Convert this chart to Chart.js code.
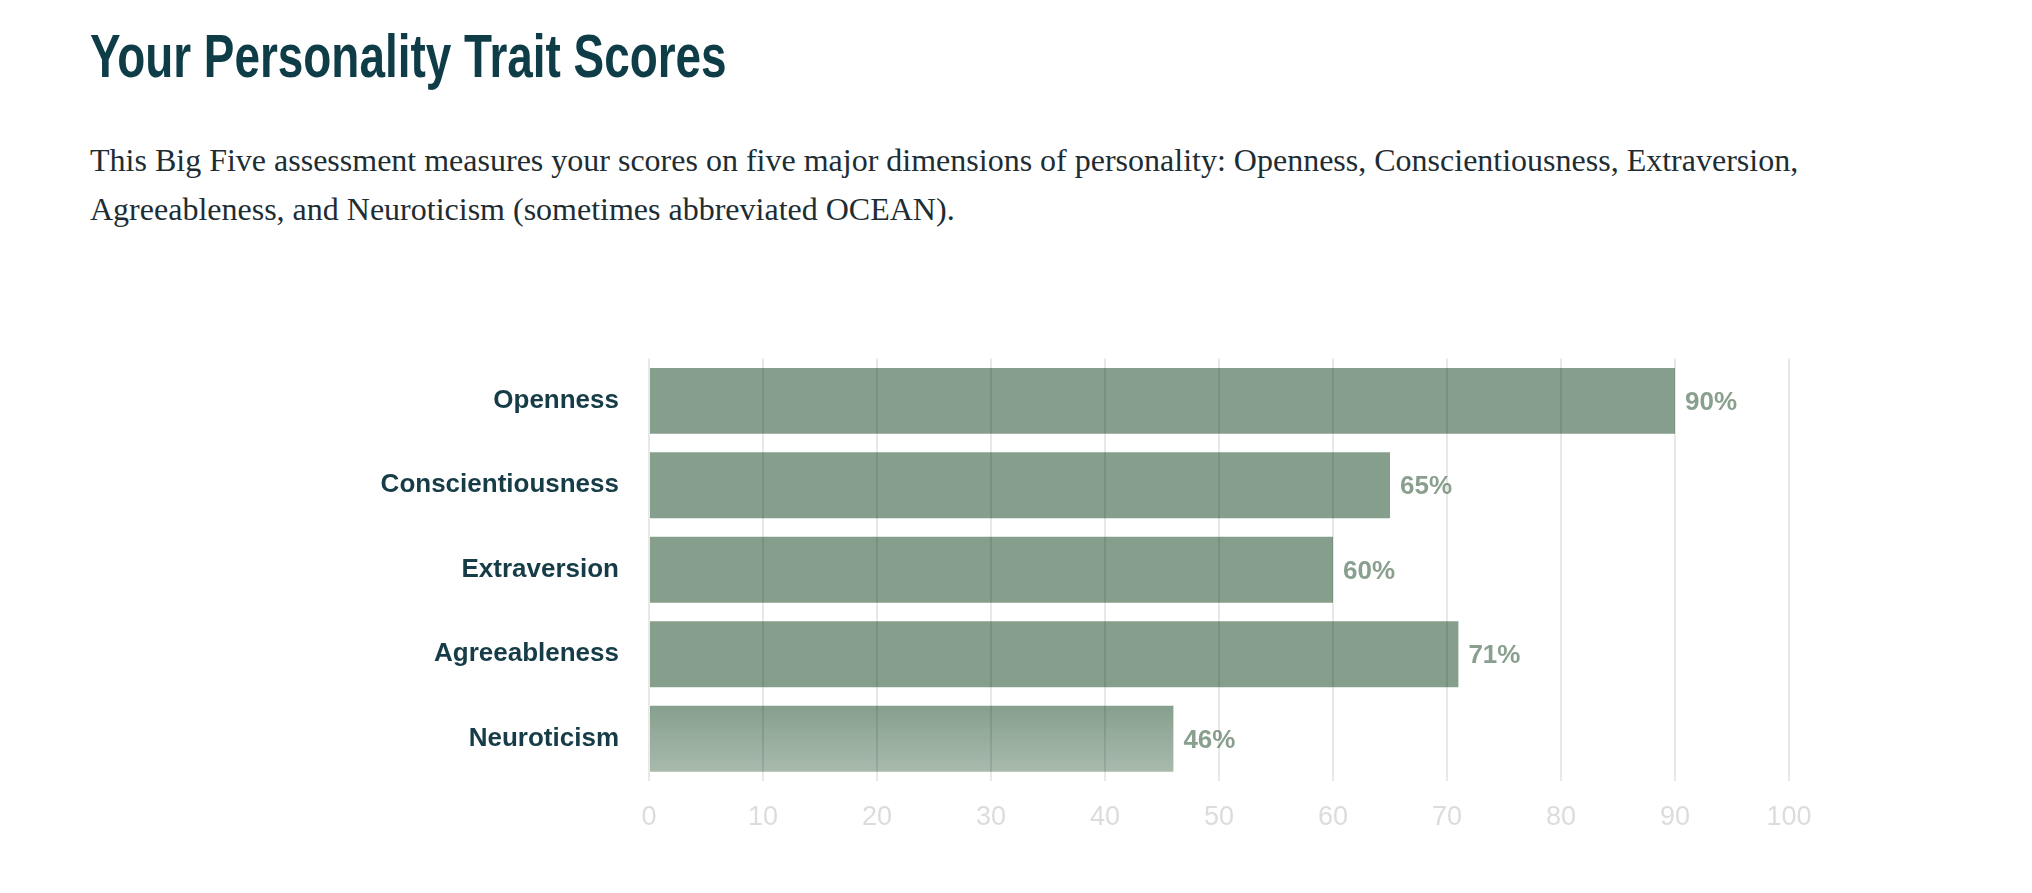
<!DOCTYPE html>
<html>
<head>
<meta charset="utf-8">
<script src="https://cdn.jsdelivr.net/npm/chart.js@4"></script>
<style>
  body { margin: 0; background: #fff; width: 2032px; height: 893px; overflow: hidden; position: relative; }
  h1 { position: absolute; left: 90px; top: 20px; margin: 0; font-family: 'Liberation Sans', sans-serif; font-weight: bold; font-size: 62px; color: #0f3d47; transform: scaleX(0.74); transform-origin: left top; white-space: nowrap; }
  p { position: absolute; left: 90px; top: 136px; margin: 0; width: 1760px; font-family: 'Liberation Serif', serif; font-size: 32px; line-height: 49px; color: #1d2d33; }
  #wrap { position: absolute; left: 300px; top: 321px; width: 1600px; height: 540px; }
</style>
</head>
<body>
<h1>Your Personality Trait Scores</h1>
<p>This Big Five assessment measures your scores on five major dimensions of personality: Openness, Conscientiousness, Extraversion, Agreeableness, and Neuroticism (sometimes abbreviated OCEAN).</p>
<div id="wrap"><canvas id="chart"></canvas></div>
<script>
const traits = ['Openness', 'Conscientiousness', 'Extraversion', 'Agreeableness', 'Neuroticism']
const scores = [90, 65, 60, 71, 46]
const xTicks = [0, 10, 20, 30, 40, 50, 60, 70, 80, 90, 100]

const FONT = "'Liberation Sans', sans-serif"

const valueLabels = {
  id: 'valueLabels',
  afterDatasetsDraw(chart) {
    const ctx = chart.ctx
    const meta = chart.getDatasetMeta(0)
    ctx.save()
    ctx.font = 'bold 26px ' + FONT
    ctx.fillStyle = '#8aa08f'
    ctx.textBaseline = 'middle'
    meta.data.forEach((bar, i) => {
      ctx.fillText(scores[i] + '%', bar.x + 10, bar.y + 2)
    })
    ctx.restore()
  }
}

function barColor(context) {
  const base = 'rgba(110,140,118,0.83)'
  if (context.dataIndex !== 4) return base
  const chart = context.chart
  const area = chart.chartArea
  const yScale = chart.scales.y
  if (!area || !yScale) return base
  const y = yScale.getPixelForValue(4)
  const half = (area.bottom - area.top) / traits.length * 0.39
  if (!isFinite(y) || !isFinite(half) || half <= 0) return base
  const g = chart.ctx.createLinearGradient(0, y - half, 0, y + half)
  g.addColorStop(0, 'rgba(110,140,118,0.83)')
  g.addColorStop(1, 'rgba(110,140,118,0.6)')
  return g
}

new Chart(document.getElementById('chart'), {
  type: 'bar',
  data: {
    labels: traits,
    datasets: [{
      data: scores,
      backgroundColor: barColor,
      categoryPercentage: 1,
      barPercentage: 0.78
    }]
  },
  options: {
    indexAxis: 'y',
    responsive: true,
    maintainAspectRatio: false,
    animation: false,
    layout: { padding: { top: 6, right: 111, bottom: 0, left: 0 } },
    plugins: { legend: { display: false }, tooltip: { enabled: false } },
    scales: {
      x: {
        min: 0,
        max: 100,
        afterBuildTicks: axis => { axis.ticks = xTicks.map(v => ({ value: v })) },
        grid: { color: 'rgba(0,0,0,0.09)', lineWidth: 2, drawTicks: false, z: 1 },
        border: { display: false },
        ticks: { color: '#dcdcdc', font: { family: FONT, size: 27 }, padding: 20 },
        afterFit: axis => { axis.height = 80 }
      },
      y: {
        grid: { display: false },
        border: { display: false },
        ticks: { color: '#163d47', font: { family: FONT, size: 26, weight: 'bold' }, padding: 22 },
        afterFit: axis => { axis.width = 349 }
      }
    }
  },
  plugins: [valueLabels]
})
</script>
</body>
</html>
